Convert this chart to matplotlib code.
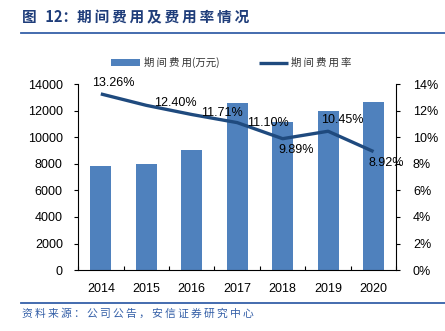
import matplotlib
matplotlib.use('Agg')
import matplotlib.pyplot as plt
import numpy as np

plt.rcParams['font.family'] = ['Liberation Sans', 'Noto Sans CJK SC', 'DejaVu Sans']

# data
years = ['2014', '2015', '2016', '2017', '2018', '2019', '2020']
expense = [7825, 7950, 9030, 12600, 11160, 11960, 12670]   # 万元
expense_rate = [13.26, 12.40, 11.71, 11.10, 9.89, 10.45, 8.92]  # %
left_ticks = [0, 2000, 4000, 6000, 8000, 10000, 12000, 14000]
right_ticks = [0, 2, 4, 6, 8, 10, 12, 14]

# label offsets (points) for the rate labels
label_offsets = [(9, 8), (21, 2), (22, 1), (22, 0), (10, -8), (10, 8), (9, -8)]

bar_color = '#4F81BD'
line_color = '#1F4A7E'
blue = '#3560A8'
cjk = ['Noto Sans CJK SC', 'DejaVu Sans']


def spaced(s):
    # loosen CJK text with thin spaces between characters
    return '\u2009'.join(s)


fig = plt.figure(figsize=(4.45, 3.31), dpi=100)
ax = fig.add_axes([0.1755, 0.184, 0.715, 0.562])
ax2 = ax.twinx()

x = np.arange(len(years))
ax.bar(x, expense, width=0.46, color=bar_color, zorder=2, label=spaced('期间费用') + '(万元)')
ax.set_xlim(-0.5, len(years) - 0.5)
ax.set_ylim(0, 14000)
ax.set_yticks(left_ticks)
ax.set_xticks(x)
ax.set_xticklabels(years)
ax.set_xticks(np.arange(-0.5, len(years)), minor=True)
ax.tick_params(axis='x', which='major', length=0, pad=9, labelsize=9)
ax.tick_params(axis='x', which='minor', direction='in', length=3, width=0.8)
ax.tick_params(axis='y', direction='out', length=3, width=0.8, labelsize=9, pad=8)
ax.spines['top'].set_visible(False)
ax.spines['right'].set_visible(False)

ax2.plot(x, expense_rate, color=line_color, linewidth=2.4, zorder=3, label=spaced('期间费用率'),
         solid_capstyle='butt')
ax2.set_ylim(0, 14)
ax2.set_yticks(right_ticks)
ax2.set_yticklabels(['{}%'.format(t) for t in right_ticks])
ax2.tick_params(axis='y', direction='out', length=3, width=0.8, labelsize=9, pad=9)
ax2.spines['top'].set_visible(False)
ax2.spines['left'].set_visible(False)
ax2.spines['bottom'].set_visible(False)
for s in ['left', 'bottom']:
    ax.spines[s].set_linewidth(0.8)
ax2.spines['right'].set_linewidth(0.8)

for xi, v, off in zip(x, expense_rate, label_offsets):
    ax2.annotate('{:.2f}%'.format(v), (xi, v), xytext=off, textcoords='offset points',
                 ha='center', va='center', fontsize=9, zorder=4)

# legend
h1, l1 = ax.get_legend_handles_labels()
h2, l2 = ax2.get_legend_handles_labels()
fig.legend(h1 + h2, l1 + l2, loc='center', bbox_to_anchor=(0.52, 0.81), ncol=2,
           frameon=False, prop={'family': cjk, 'size': 7.5},
           handlelength=2.8, columnspacing=3.8, handletextpad=0.3, labelcolor='#333333')

# title and source
fig.text(0.049, 0.948, '图\u2009\u2009\u200912：' + spaced('期间费用及费用率情况'), fontsize=10.5,
         fontweight='bold', color='#1F3D7A', family=cjk, va='center')
fig.add_artist(plt.Line2D([0.047, 1.0], [0.90, 0.90], color=blue, linewidth=1.3))
fig.add_artist(plt.Line2D([0.047, 1.0], [0.086, 0.086], color=blue, linewidth=1.3))
fig.text(0.049, 0.054, spaced('资料来源：公司公告，安信证券研究中心'), fontsize=7.8,
         style='italic', color='#3560A8', family=cjk, va='center')

fig.savefig('out.png', dpi=100)
